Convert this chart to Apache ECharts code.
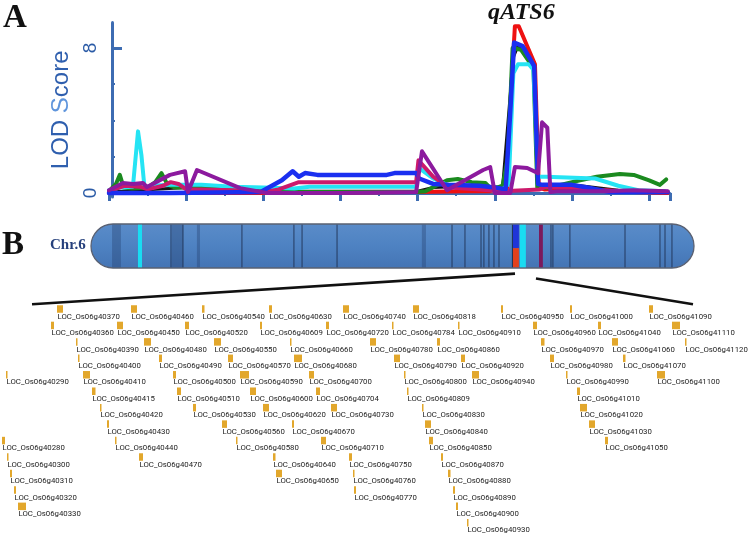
<!DOCTYPE html>
<html>
<head>
<meta charset="utf-8">
<script src="https://cdn.jsdelivr.net/npm/echarts@6.0.0/dist/echarts.min.js"></script>
<style>
html, body { margin: 0; padding: 0; background: #fff; }
#main { width: 748px; height: 547px; }
</style>
</head>
<body>
<div id="main"></div>
<script>
// ---- panel A : LOD curves, [position (Mb), LOD] ----
var lodBlack = [[0,0.05],[5,0.3],[8,0.3],[10,0.1],[20,0.1],[21,0.3],[24,0.4],[25.5,0.3],[26.2,7.5],[26.5,8.1],[27.1,7.9],[27.55,7.2],[27.8,0.3],[30,0.45],[33,0.15],[36.2,0.05]];
var lodRed = [[0,0],[10,0],[20,0.05],[23,0.1],[25.5,0.1],[25.8,0.3],[26.05,5.5],[26.3,9.2],[26.55,9.2],[27.15,8.0],[27.6,7.1],[27.85,0.3],[28.2,0.2],[30,0.25],[32,0.15],[34,0.05],[36.2,0]];
var lodGreen = [[0,0.1],[0.45,0.5],[0.7,1.0],[0.95,0.3],[1.5,0.25],[2.5,0.3],[3.0,0.6],[3.4,1.1],[3.8,0.45],[4.3,0.3],[6,0.3],[8,0.2],[10,0.05],[12,0.05],[19.9,0.05],[20.5,0.1],[21.9,0.7],[22.6,0.77],[23.5,0.6],[24.4,0.55],[24.8,0.2],[25.5,0.4],[25.85,2],[26.15,8.0],[26.7,7.9],[27.5,6.9],[27.75,0.3],[28.5,0.3],[30,0.6],[31.6,0.9],[33.1,1.05],[34,1.0],[35,0.7],[35.7,0.45],[36.1,0.75]];
var lodCyan = [[0,0.15],[0.7,0.3],[1.55,0.35],[1.88,3.4],[2.1,2.1],[2.3,0.3],[2.7,0.4],[4,0.45],[6,0.45],[8,0.35],[10,0.3],[12,0.25],[13,0.35],[18,0.35],[19.9,0.35],[20.05,1.4],[21,0.8],[21.9,0.45],[24,0.3],[25.3,0.05],[25.9,0.5],[26.2,6.6],[26.5,7.1],[27.2,7.1],[27.5,6.8],[27.8,0.9],[28.3,0.9],[31.5,0.8],[33,0.4],[34.3,0.15],[36,0.1]];
var lodMagenta = [[0,0.1],[1,0.4],[2,0.35],[2.5,0.2],[3.5,0.4],[4,0.6],[4.5,0.5],[5,0.2],[6,0.2],[8,0.15],[10,0.05],[11,0.2],[12.3,0.6],[14,0.6],[19.9,0.6],[20.05,1.8],[21,0.9],[22,0.3],[24,0.2],[25.5,0.1],[27.9,0.2],[28.3,0.35],[30,0.3],[32,0.15],[34,0.05],[36.2,0.05]];
var lodBlue = [[0,0],[4,0],[9.8,0.05],[11.2,0.7],[11.9,1.2],[12.3,0.9],[12.7,1.1],[13.5,1.0],[18,1.0],[18.5,1.1],[19.9,1.1],[20.1,0.8],[21,0.5],[22,0.45],[24,0.4],[25,0.3],[25.7,0.2],[26.0,4.5],[26.25,8.3],[26.8,8.1],[27.55,7.0],[27.8,0.5],[28.1,0.45],[30,0.45],[31,0.3],[32.5,0.05],[36.2,0.05]];
var lodPurple = [[0,0.15],[0.9,0.55],[1.55,0.5],[2.2,0.55],[2.46,0.33],[3.95,1.0],[4.93,1.2],[5.12,0.05],[5.7,1.27],[8.5,0.27],[10.24,0],[15,0],[19.9,0.05],[20.28,2.3],[21.9,0.15],[24.24,1.27],[24.7,1.43],[25.0,0],[26.0,0],[26.3,1.43],[27.1,1.38],[27.8,1.1],[28.06,3.9],[28.4,3.6],[28.6,0.05],[29,0.1],[32,0.1],[34,0.15],[36.2,0.1]];

var lodTicks = [2, 4, 6];
var lodLabels = [0, 8];

// ---- panel B : chromosome 6 (Mb) ----
var chromLength = 31.2;
var chromLines = [4.14, 4.76, 7.81, 10.5, 10.92, 12.73, 18.68, 19.35, 20.18, 20.33, 20.59, 20.85, 21.11, 23.8, 23.9, 24.78, 27.63, 29.44, 29.7, 30.06];
var chromShades = [[1.09, 1.55], [4.19, 4.76], [5.48, 5.64], [17.12, 17.33]];
var chromMarks = [[2.43, 2.64, 'cyan'], [21.83, 22.14, 'blueRed'], [22.19, 22.5, 'cyan'], [23.18, 23.38, 'purple']];

// ---- candidate genes : [id, start on track, row, length] ----
var genes = [
  ['40370',57,0,6],['40460',131,0,6],['40540',202,0,2.5],['40630',269,0,3],['40740',343,0,6],['40818',413,0,6],['40950',501,0,2],['41000',570,0,2],['41090',649,0,4],
  ['40360',51,1,3],['40450',117,1,6],['40520',185,1,4],['40609',260,1,2],['40720',326,1,3],['40784',392,1,1.5],['40910',458,1,1.5],['40960',533,1,4],['41040',598,1,3],['41110',672,1,8],
  ['40390',76,2,1.5],['40480',144,2,7],['40550',214,2,7],['40660',290,2,1.5],['40780',370,2,6],['40860',437,2,3],['40970',541,2,3.5],['41060',612,2,6],['41120',685,2,1.5],
  ['40400',78,3,1.5],['40490',159,3,3],['40570',228,3,5],['40680',294,3,8],['40790',394,3,6],['40920',461,3,4],['40980',550,3,4],['41070',623,3,2.5],
  ['40290',6,4,1.5],['40410',83,4,7],['40500',173,4,3],['40590',240,4,9],['40700',309,4,5],['40800',404,4,1.5],['40940',472,4,7],['40990',566,4,1.5],['41100',657,4,8],
  ['40415',92,5,3.5],['40510',177,5,4],['40600',250,5,6],['40704',316,5,4],['40809',407,5,1.5],['41010',577,5,3],
  ['40420',100,6,1.5],['40530',193,6,3],['40620',263,6,6],['40730',331,6,6],['40830',422,6,1.5],['41020',580,6,7],
  ['40430',107,7,2],['40560',222,7,5],['40670',292,7,2],['40840',425,7,6],['41030',589,7,6],
  ['40280',2,8,3],['40440',115,8,1.5],['40580',236,8,1.5],['40710',321,8,5],['40850',429,8,4],['41050',605,8,3],
  ['40300',7,9,1.5],['40470',139,9,4],['40640',273,9,2.5],['40750',349,9,3],['40870',441,9,2],
  ['40310',10,10,2],['40650',276,10,6],['40760',353,10,1.5],['40880',448,10,2.5],
  ['40320',14,11,2],['40770',354,11,2],['40890',453,11,2],
  ['40330',18,12,8],['40900',456,12,2],
  ['40930',467,13,1.5]
];
// zoom-in connectors from chromosome to gene track
var zoomLinks = [[[32, -0.76], [515, -2.62]], [[536, -2.33], [693, -0.76]]];

var axisBlue = '#3d6cb2';
var bandColors = { cyan: '#19dcf2', blue: '#1f35d8', red: '#e2401c', purple: '#7b1a5c' };

var chart = echarts.init(document.getElementById('main'));

function lodSeries(name, data, color, width, z) {
  return {
    name: name, type: 'line', xAxisIndex: 0, yAxisIndex: 0, data: data,
    showSymbol: false, symbol: 'none', z: z, silent: true,
    lineStyle: { color: color, width: width, join: 'round', cap: 'round' }
  };
}

var option = {
  animation: false,
  title: [
    { text: 'A', left: 3, top: 2, padding: 0, textStyle: { fontFamily: 'Liberation Serif', fontWeight: 'bold', fontSize: 33, color: '#111' } },
    { text: 'B', left: 2, top: 229, padding: 0, textStyle: { fontFamily: 'Liberation Serif', fontWeight: 'bold', fontSize: 33, color: '#111' } },
    { text: 'Chr.6', left: 50, top: 238, padding: 0, textStyle: { fontFamily: 'Liberation Serif', fontWeight: 'bold', fontSize: 15, color: '#26407c' } },
    { text: 'qATS6', left: 488, top: 1, padding: 0, textStyle: { fontFamily: 'Liberation Serif', fontWeight: 'bold', fontStyle: 'italic', fontSize: 24, color: '#111' } }
  ],
  grid: [
    { left: 109, top: 22.6, width: 561, height: 174.4 },
    { left: 91, top: 224, width: 603, height: 44 },
    { left: 0, top: 267.4, width: 748, height: 292.4 }
  ],
  xAxis: [
    {
      gridIndex: 0, type: 'value', min: 0, max: 36.35, interval: 5,
      axisLine: { lineStyle: { color: axisBlue, width: 3 } },
      axisTick: { length: 8, lineStyle: { color: axisBlue, width: 3 } },
      minorTick: { show: true, splitNumber: 2, length: 3, lineStyle: { color: axisBlue, width: 2 } },
      axisLabel: { show: false }, splitLine: { show: false }
    },
    { gridIndex: 1, type: 'value', min: 0, max: chromLength, show: false },
    { gridIndex: 2, type: 'value', min: 0, max: 748, show: false }
  ],
  yAxis: [
    {
      gridIndex: 0, type: 'value', min: -0.22, max: 9.4, position: 'left', offset: -3,
      name: '{a|LOD }{b|S}{a|core}', nameLocation: 'middle', nameGap: 38,
      nameTextStyle: {
        rich: {
          a: { fontFamily: 'Liberation Sans', fontSize: 24, color: '#2f5fae' },
          b: { fontFamily: 'Liberation Sans', fontSize: 24, color: '#5f95dc' }
        }
      },
      axisLine: { show: true, lineStyle: { color: axisBlue, width: 3 } },
      axisTick: { show: true, inside: true, length: 10, customValues: [8], lineStyle: { color: axisBlue, width: 3 } },
      axisLabel: { customValues: lodLabels, rotate: 90, margin: 12, fontFamily: 'Liberation Sans', fontSize: 19, color: '#2b5ba6' },
      splitLine: { show: false }
    },
    {
      gridIndex: 0, type: 'value', min: -0.22, max: 9.4, position: 'left', offset: -3,
      axisLine: { show: false },
      axisTick: { show: true, inside: true, length: 3, customValues: lodTicks, lineStyle: { color: axisBlue, width: 2 } },
      axisLabel: { show: false }, splitLine: { show: false }
    },
    { gridIndex: 1, type: 'value', min: 0, max: 1, show: false },
    { gridIndex: 2, type: 'value', min: -3, max: 14, inverse: true, show: false }
  ],
  series: [
    lodSeries('black', lodBlack, '#151515', 3, 2),
    lodSeries('red', lodRed, '#ee1111', 4, 3),
    lodSeries('green', lodGreen, '#1b8a1f', 4, 4),
    lodSeries('cyan', lodCyan, '#25e4f4', 4, 5),
    lodSeries('magenta', lodMagenta, '#cc1a6c', 4, 6),
    lodSeries('blue', lodBlue, '#1a2ff0', 4.5, 7),
    lodSeries('purple', lodPurple, '#8c1a9e', 4, 8),
    {
      // chromosome body
      type: 'custom', xAxisIndex: 1, yAxisIndex: 2, silent: true, z: 2,
      data: [[0, chromLength]],
      renderItem: function (params, api) {
        var p0 = api.coord([api.value(0), 1]);
        var p1 = api.coord([api.value(1), 0]);
        var h = p1[1] - p0[1];
        return {
          type: 'rect',
          shape: { x: p0[0], y: p0[1], width: p1[0] - p0[0], height: h, r: h / 2 },
          style: {
            fill: new echarts.graphic.LinearGradient(0, 0, 0, 1, [
              { offset: 0, color: '#5a8cc9' }, { offset: 0.5, color: '#4e82c2' }, { offset: 1, color: '#4474b4' }
            ]),
            stroke: '#5a6172', lineWidth: 1.3
          }
        };
      }
    },
    {
      // shaded bands
      type: 'custom', xAxisIndex: 1, yAxisIndex: 2, silent: true, z: 3,
      data: chromShades,
      renderItem: function (params, api) {
        var p0 = api.coord([api.value(0), 1]);
        var p1 = api.coord([api.value(1), 0]);
        return { type: 'rect', shape: { x: p0[0], y: p0[1] + 0.7, width: p1[0] - p0[0], height: p1[1] - p0[1] - 1.4 }, style: { fill: 'rgba(35,60,105,0.35)' } };
      }
    },
    {
      // thin marker lines
      type: 'custom', xAxisIndex: 1, yAxisIndex: 2, silent: true, z: 4,
      data: chromLines.map(function (v) { return [v]; }),
      renderItem: function (params, api) {
        var p0 = api.coord([api.value(0), 1]);
        var p1 = api.coord([api.value(0), 0]);
        return { type: 'line', shape: { x1: p0[0], y1: p0[1] + 0.7, x2: p1[0], y2: p1[1] - 0.7 }, style: { stroke: '#1d2e4e', lineWidth: 1, opacity: 0.85 } };
      }
    },
    {
      // QTL marker bands
      type: 'custom', xAxisIndex: 1, yAxisIndex: 2, silent: true, z: 5,
      data: chromMarks.map(function (m) { return [m[0], m[1]]; }),
      renderItem: function (params, api) {
        var kind = chromMarks[params.dataIndex][2];
        var p0 = api.coord([api.value(0), 1]);
        var p1 = api.coord([api.value(1), 0]);
        var x = p0[0], w = p1[0] - p0[0], y = p0[1] + 0.7, h = p1[1] - p0[1] - 1.4;
        if (kind === 'blueRed') {
          return {
            type: 'group', children: [
              { type: 'rect', shape: { x: x, y: y, width: w, height: h * 0.55 }, style: { fill: bandColors.blue } },
              { type: 'rect', shape: { x: x, y: y + h * 0.55, width: w, height: h * 0.45 }, style: { fill: bandColors.red } },
              { type: 'rect', shape: { x: x - 1, y: y, width: 1, height: h }, style: { fill: '#1d2e4e' } }
            ]
          };
        }
        return { type: 'rect', shape: { x: x, y: y, width: w, height: h }, style: { fill: bandColors[kind] } };
      }
    },
    {
      type: 'lines', coordinateSystem: 'cartesian2d', xAxisIndex: 2, yAxisIndex: 3, silent: true, z: 2,
      data: zoomLinks.map(function (c) { return { coords: c }; }),
      lineStyle: { color: '#111', width: 2.6, opacity: 1 }
    },
    {
      // gene track
      type: 'custom', xAxisIndex: 2, yAxisIndex: 3, silent: true, z: 3,
      data: genes.map(function (g) { return [g[1], g[2], g[3]]; }),
      renderItem: function (params, api) {
        var id = genes[params.dataIndex][0];
        var c = api.coord([api.value(0), api.value(1)]);
        var w = Math.max(api.size([api.value(2), 0])[0], 1.5);
        return {
          type: 'group', children: [
            { type: 'rect', shape: { x: c[0], y: c[1] - 11.5, width: w, height: 7.5 }, style: { fill: '#e2a72c' } },
            { type: 'text', x: c[0] + 0.5, y: c[1], style: { text: 'LOC_Os06g' + id, fill: '#222', font: '7.8px Roboto', verticalAlign: 'middle', align: 'left' } }
          ]
        };
      }
    }
  ]
};

chart.setOption(option);
</script>
</body>
</html>
